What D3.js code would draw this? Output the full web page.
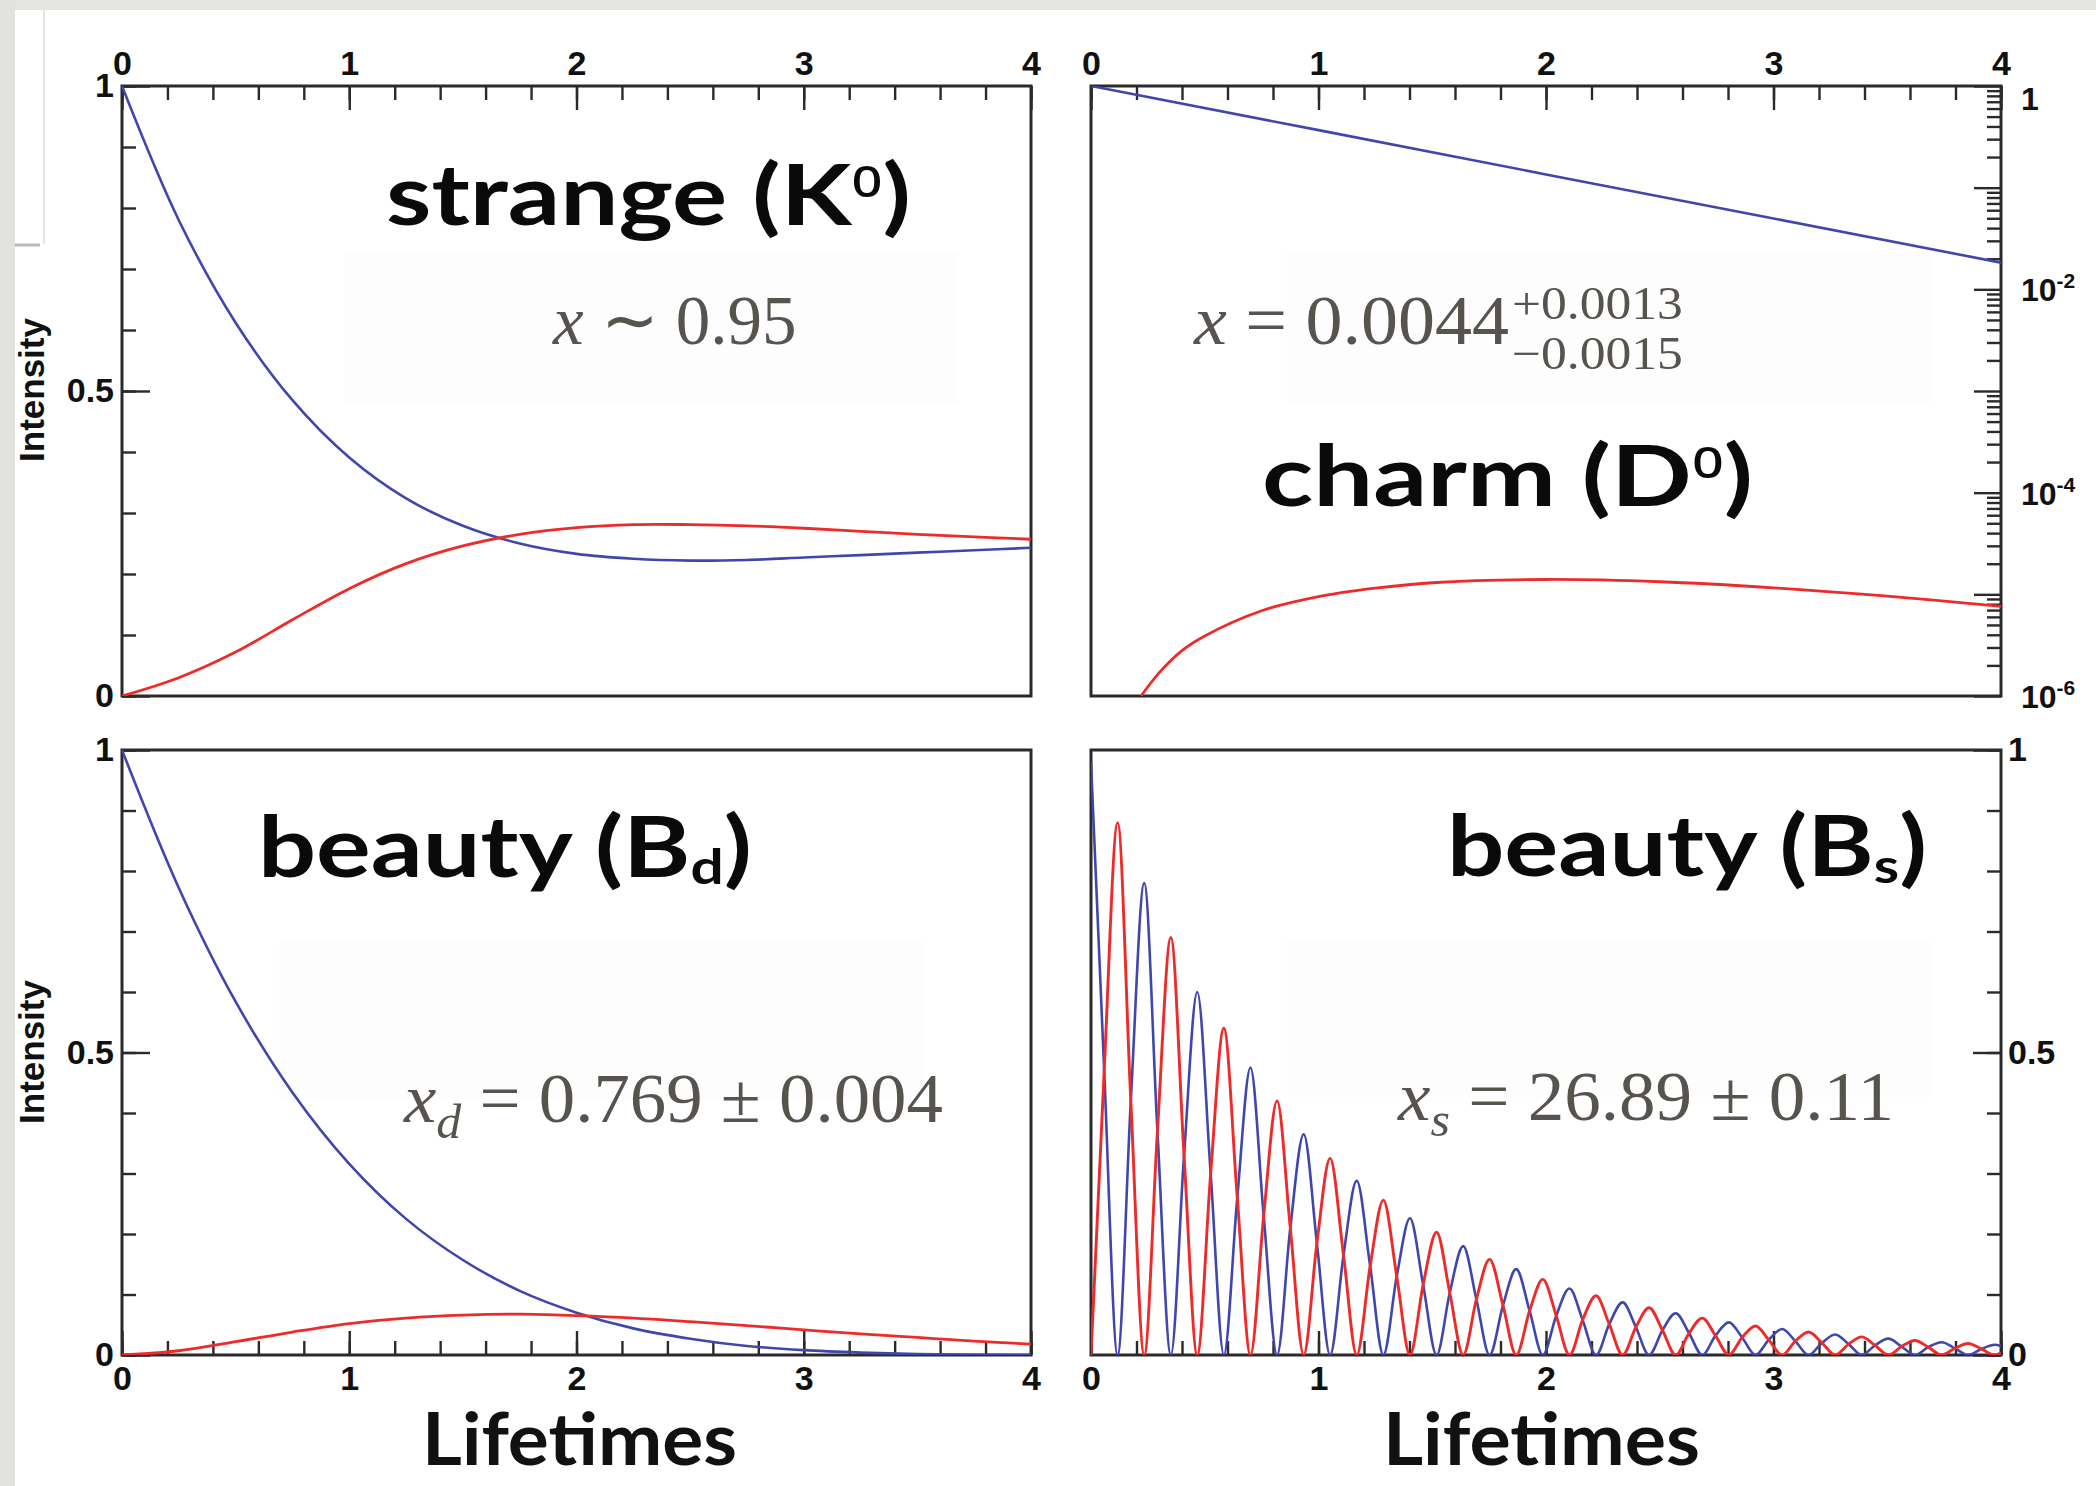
<!DOCTYPE html>
<html>
<head>
<meta charset="utf-8">
<script src="https://cdn.jsdelivr.net/npm/d3@7"></script>
<style>
  body { margin: 0; background: #fff; }
  svg { display: block; }
</style>
</head>
<body>
<div id="chart"></div>
<script>
// tick labels
const lifetimeTicks = [0, 1, 2, 3, 4]
const intensityTicks = [0, 0.5, 1]
const logLabelPowers = [0, -2, -4, -6]

// strange (K0) and beauty (Bd): sampled every 0.25 lifetimes
const times = [0, 0.25, 0.5, 0.75, 1, 1.25, 1.5, 1.75, 2, 2.25, 2.5, 2.75, 3, 3.25, 3.5, 3.75, 4]
const kaonUnmixed = [1, 0.78, 0.612, 0.485, 0.391, 0.324, 0.279, 0.25, 0.233, 0.225, 0.222, 0.223, 0.227, 0.231, 0.235, 0.239, 0.243]
const kaonMixed = [0, 0.03, 0.072, 0.125, 0.176, 0.217, 0.246, 0.265, 0.276, 0.281, 0.281, 0.279, 0.275, 0.27, 0.265, 0.261, 0.257]
const bdUnmixed = [1, 0.772, 0.584, 0.434, 0.316, 0.225, 0.157, 0.106, 0.07, 0.044, 0.027, 0.015, 0.008, 0.004, 0.0015, 0.0004, 0]
const bdMixed = [0, 0.007, 0.022, 0.038, 0.052, 0.061, 0.066, 0.0675, 0.065, 0.061, 0.055, 0.0485, 0.0416, 0.035, 0.029, 0.023, 0.018]

// charm (D0), log scale
const charmTimes = [0, 1, 2, 3, 4]
const charmUnmixed = [1, 0.368, 0.135, 0.0498, 0.0183]
const charmMixTimes = [0.22, 0.3, 0.4, 0.5, 0.75, 1, 1.25, 1.5, 2, 2.5, 3, 3.5, 4]
const charmMixed = [1.0e-6, 1.7e-6, 2.8e-6, 3.9e-6, 6.9e-6, 9.5e-6, 1.15e-5, 1.3e-5, 1.4e-5, 1.33e-5, 1.16e-5, 9.6e-6, 7.6e-6]

// beauty (Bs): fast oscillation, read at quarter periods
const bsTimes = [0, 0.058, 0.117, 0.175, 0.234, 0.292, 0.351, 0.409, 0.467, 0.526, 0.584, 0.643, 0.701, 0.759, 0.818, 0.876,
  0.935, 0.993, 1.051, 1.110, 1.168, 1.227, 1.285, 1.344, 1.402, 1.460, 1.519, 1.577, 1.636, 1.694, 1.752, 1.811,
  1.869, 1.928, 1.986, 2.045, 2.103, 2.161, 2.220, 2.278, 2.337, 2.395, 2.453, 2.512, 2.570, 2.629, 2.687, 2.745,
  2.804, 2.862, 2.921, 2.979, 3.038, 3.096, 3.154, 3.213, 3.271, 3.330, 3.388, 3.446, 3.505, 3.563, 3.622, 3.680,
  3.739, 3.797, 3.855, 3.914, 3.972, 4.0]
const bsUnmixed = [0.98, 0.47, 0, 0.42, 0.78, 0.37, 0, 0.33, 0.60, 0.30, 0, 0.26, 0.475, 0.23, 0, 0.21,
  0.365, 0.185, 0, 0.165, 0.288, 0.147, 0, 0.13, 0.226, 0.116, 0, 0.103, 0.18, 0.092, 0, 0.082,
  0.142, 0.073, 0, 0.065, 0.11, 0.058, 0, 0.051, 0.087, 0.046, 0, 0.041, 0.069, 0.036, 0, 0.032,
  0.054, 0.029, 0, 0.025, 0.043, 0.023, 0, 0.02, 0.034, 0.018, 0, 0.016, 0.027, 0.014, 0, 0.013,
  0.021, 0.011, 0, 0.01, 0.017, 0.015]
const bsMixed = [0, 0.47, 0.88, 0.42, 0, 0.37, 0.69, 0.33, 0, 0.30, 0.54, 0.26, 0, 0.23, 0.42, 0.21,
  0, 0.185, 0.325, 0.165, 0, 0.147, 0.256, 0.13, 0, 0.116, 0.203, 0.103, 0, 0.092, 0.158, 0.082,
  0, 0.073, 0.125, 0.065, 0, 0.058, 0.098, 0.051, 0, 0.046, 0.078, 0.041, 0, 0.036, 0.061, 0.032,
  0, 0.029, 0.048, 0.025, 0, 0.023, 0.038, 0.02, 0, 0.018, 0.03, 0.016, 0, 0.014, 0.024, 0.013,
  0, 0.011, 0.019, 0.01, 0, 0.003]

window.onload = function(){

    const frameColor = "#2a2a2a"
    const blue = "#3f47ad"
    const red = "#ee2b2b"
    const mathGrey = "#57534e"
    const tickFont = "'Liberation Sans', Arial, sans-serif"
    const titleFont = "Lato, 'Open Sans', sans-serif"
    const mathFont = "'Liberation Serif', 'Times New Roman', serif"

    const svg = d3.select("#chart")
    .append("svg")
        .attr("width", 2096)
        .attr("height", 1486)

    // slide background bits
    svg.append("rect").attr("x", 0).attr("y", 0).attr("width", 2096).attr("height", 10).attr("fill", "#e4e4e1")
    svg.append("rect").attr("x", 0).attr("y", 0).attr("width", 15).attr("height", 1486).attr("fill", "#e2e2df")
    svg.append("line").attr("x1", 44).attr("x2", 44).attr("y1", 10).attr("y2", 244).attr("stroke", "#e6e6e6").attr("stroke-width", 2)
    svg.append("line").attr("x1", 15).attr("x2", 40).attr("y1", 245).attr("y2", 245).attr("stroke", "#b8b8b8").attr("stroke-width", 3)

    const panels = [
        {id: "k", left: 122, right: 1031, top: 86, bottom: 696, side: "left", xSide: "top", log: false, box: [345, 253, 958, 405]},
        {id: "d", left: 1091, right: 2001, top: 86, bottom: 696, side: "right", xSide: "top", log: true, box: [1287, 250, 1930, 404]},
        {id: "bd", left: 122, right: 1031, top: 750, bottom: 1355, side: "left", xSide: "bottom", log: false, box: [279, 940, 923, 1098]},
        {id: "bs", left: 1091, right: 2001, top: 750, bottom: 1355, side: "right", xSide: "bottom", log: false, box: [1287, 938, 1930, 1097]}
    ]

    function styleTicks(a){
        a.select(".domain").remove()
        a.selectAll("line").attr("stroke", frameColor).attr("stroke-width", 2.4)
        a.selectAll("text")
            .attr("fill", "#111")
            .style("font-family", tickFont)
            .style("font-weight", "bold")
            .style("font-size", "34px")
        return a
    }

    function fitText(t, x0, width){
        const bb = t.node().getBBox()
        const s = width / bb.width
        t.attr("transform", `translate(${x0 - bb.x * s},0) scale(${s},1)`)
    }

    const scales = {}

    panels.forEach(p => {
        const g = svg.append("g")

        g.append("rect")
            .attr("x", p.box[0]).attr("y", p.box[1])
            .attr("width", p.box[2] - p.box[0]).attr("height", p.box[3] - p.box[1])
            .attr("fill", "#fdfdfd")

        const x = d3.scaleLinear().domain([0, 4]).range([p.left, p.right])
        const y = p.log
            ? d3.scaleLog().domain([1e-6, 1]).range([p.bottom, p.top])
            : d3.scaleLinear().domain([0, 1]).range([p.bottom, p.top])
        scales[p.id] = {x: x, y: y, g: g}

        g.append("clipPath").attr("id", "clip-" + p.id)
            .append("rect")
            .attr("x", p.left).attr("y", p.top)
            .attr("width", p.right - p.left).attr("height", p.bottom - p.top)

        // x ticks, every 0.2 with labels on whole lifetimes
        const xAxisMaker = p.xSide == "top" ? d3.axisTop : d3.axisBottom
        const xPos = p.xSide == "top" ? p.top : p.bottom
        styleTicks(g.append("g")
            .attr("transform", `translate(0,${xPos})`)
            .call(xAxisMaker(x).tickValues(d3.range(0, 4.001, 0.2)).tickSize(-14).tickFormat(() => "")))
        styleTicks(g.append("g")
            .attr("transform", `translate(0,${xPos})`)
            .call(xAxisMaker(x).tickValues(lifetimeTicks).tickSize(-24).tickPadding(11).tickFormat(d3.format(""))))

        // y ticks
        const yAxisMaker = p.side == "left" ? d3.axisLeft : d3.axisRight
        const yPos = p.side == "left" ? p.left : p.right
        if(!p.log){
            styleTicks(g.append("g")
                .attr("transform", `translate(${yPos},0)`)
                .call(yAxisMaker(y).tickValues(d3.range(0, 1.001, 0.1)).tickSize(-14).tickFormat(() => "")))
            styleTicks(g.append("g")
                .attr("transform", `translate(${yPos},0)`)
                .call(yAxisMaker(y).tickValues(intensityTicks).tickSize(-28).tickPadding(p.side == "left" ? 8 : 7).tickFormat(d3.format(""))))
        } else {
            const minor = []
            d3.range(-6, 0).forEach(e => d3.range(2, 10).forEach(m => minor.push(m * Math.pow(10, e))))
            styleTicks(g.append("g")
                .attr("transform", `translate(${yPos},0)`)
                .call(yAxisMaker(y).tickValues(minor).tickSize(-14).tickFormat(() => "")))
            styleTicks(g.append("g")
                .attr("transform", `translate(${yPos},0)`)
                .call(yAxisMaker(y).tickValues(d3.range(-6, 1).map(e => Math.pow(10, e))).tickSize(-27).tickFormat(() => "")))

            logLabelPowers.forEach(e => {
                const t = g.append("text")
                    .attr("x", p.right + 20)
                    .attr("y", y(Math.pow(10, e)) + (e == 0 ? 24 : 12))
                    .attr("fill", "#111")
                    .style("font-family", tickFont)
                    .style("font-weight", "bold")
                    .style("font-size", "32px")
                if(e == 0){
                    t.text("1")
                } else {
                    t.append("tspan").text("10")
                    t.append("tspan").attr("dy", -13).style("font-size", "21px").text(e)
                }
            })
        }

        g.append("rect")
            .attr("x", p.left).attr("y", p.top)
            .attr("width", p.right - p.left).attr("height", p.bottom - p.top)
            .attr("fill", "none")
            .attr("stroke", frameColor)
            .attr("stroke-width", 3)
    })

    function drawCurve(id, xs, ys, color, width, curve){
        const s = scales[id]
        s.g.append("path")
            .datum(xs.map((t, i) => ({t: t, v: ys[i]})))
            .attr("clip-path", `url(#clip-${id})`)
            .attr("fill", "none")
            .attr("stroke", color)
            .attr("stroke-width", width)
            .attr("stroke-linejoin", "round")
            .attr("d", d3.line()
                .x(d => s.x(d.t))
                .y(d => s.y(d.v))
                .curve(curve || d3.curveMonotoneX)
            )
    }

    const smooth = d3.curveCatmullRom.alpha(0.5)
    drawCurve("k", times, kaonUnmixed, blue, 2.6, smooth)
    drawCurve("k", times, kaonMixed, red, 2.8, smooth)
    drawCurve("d", charmTimes, charmUnmixed, blue, 2.6, d3.curveLinear)
    drawCurve("d", charmMixTimes, charmMixed, red, 2.8, smooth)
    drawCurve("bd", times, bdUnmixed, blue, 2.6, smooth)
    drawCurve("bd", times, bdMixed, red, 2.8, smooth)
    drawCurve("bs", bsTimes, bsUnmixed, blue, 2.6)
    drawCurve("bs", bsTimes, bsMixed, red, 2.9)

    // Intensity labels
    ;[390, 1052].forEach(cy => {
        svg.append("text")
            .attr("transform", `translate(44,${cy}) rotate(-90)`)
            .attr("text-anchor", "middle")
            .attr("fill", "#111")
            .style("font-family", tickFont)
            .style("font-weight", "bold")
            .style("font-size", "35px")
            .text("Intensity")
    })

    // Lifetimes
    ;[[422, 737], [1383, 1700]].forEach(r => {
        const t = svg.append("text")
            .attr("x", r[0]).attr("y", 1465)
            .attr("fill", "#111")
            .style("font-family", titleFont)
            .style("font-weight", 700)
            .style("font-size", "72px")
            .text("Lifetimes")
        fitText(t, r[0], r[1] - r[0])
    })

    // titles
    function title(x0, x1, baseline, word, letter, script, sup){
        const t = svg.append("text")
            .attr("x", x0).attr("y", baseline)
            .attr("fill", "#0a0a0a")
            .style("font-family", titleFont)
            .style("font-weight", 700)
            .style("font-size", "84px")
        t.append("tspan").text(word + " (" + letter)
        const shift = sup ? -28 : 7
        t.append("tspan").attr("dy", shift)
            .style("font-size", sup ? "44px" : "48px")
            .style("font-family", sup ? "'Noto Sans', sans-serif" : titleFont)
            .style("font-weight", sup ? 500 : 700)
            .text(script)
        t.append("tspan").attr("dy", -shift).text(")")
        fitText(t, x0, x1 - x0)
    }
    title(386, 911, 225, "strange", "K", "0", true)
    title(1262, 1753, 506, "charm", "D", "0", true)
    title(258, 752, 877, "beauty", "B", "d", false)
    title(1447, 1927, 876, "beauty", "B", "s", false)

    // mixing parameters
    function mathText(x0, baseline){
        return svg.append("text")
            .attr("x", x0).attr("y", baseline)
            .attr("fill", mathGrey)
            .style("font-family", mathFont)
            .style("font-size", "70px")
    }

    const kx = mathText(552, 344)
    kx.append("tspan").style("font-style", "italic").text("x")
    kx.append("tspan").text(" \u223C 0.95")
    fitText(kx, 552, 245)

    const dx = mathText(1193, 344)
    dx.append("tspan").style("font-style", "italic").text("x")
    dx.append("tspan").text(" = 0.0044")
    fitText(dx, 1193, 316)
    const dUp = mathText(1512, 319).style("font-size", "46px").text("+0.0013")
    fitText(dUp, 1512, 171)
    const dDown = mathText(1512, 369).style("font-size", "46px").text("\u22120.0015")
    fitText(dDown, 1512, 171)

    function subMath(x0, width, baseline, sub, rest){
        const t = mathText(x0, baseline)
        t.append("tspan").style("font-style", "italic").text("x")
        t.append("tspan").style("font-style", "italic").style("font-size", "48px").attr("dy", 16).text(sub)
        t.append("tspan").attr("dy", -16).text(rest)
        fitText(t, x0, width)
    }
    subMath(403, 540, 1122, "d", " = 0.769 \u00B1 0.004")
    subMath(1397, 497, 1120, "s", " = 26.89 \u00B1 0.11")
}
</script>
</body>
</html>
